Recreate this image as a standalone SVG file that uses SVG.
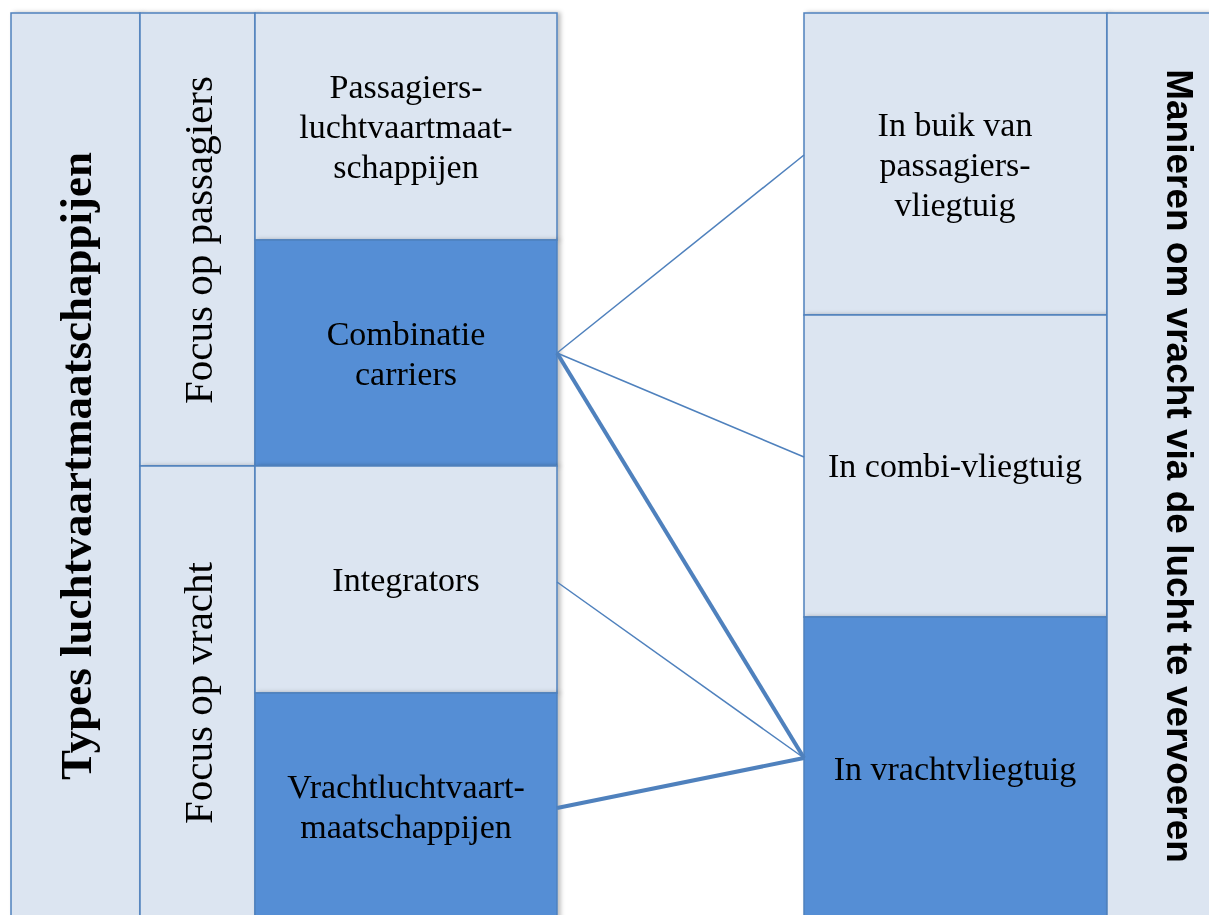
<svg xmlns="http://www.w3.org/2000/svg" width="1209" height="915" viewBox="0 0 1209 915">
<defs>
<style>
.l{fill:#DCE5F1;stroke:#4F81BD;stroke-width:1.5}
.d{fill:#558ED5;stroke:#4F81BD;stroke-width:1.5}
.t{font-family:"Liberation Serif","DejaVu Serif",serif;font-size:34px;fill:#000;text-anchor:middle}
.tv{font-family:"Liberation Serif","DejaVu Serif",serif;font-size:41px;fill:#000;text-anchor:middle}
.tb{font-family:"Liberation Serif","DejaVu Serif",serif;font-size:45px;font-weight:bold;fill:#000;text-anchor:middle}
.sb{font-family:"Liberation Sans","DejaVu Sans",sans-serif;font-size:37px;font-weight:bold;fill:#000;text-anchor:middle}
.c{stroke:#4F81BD;fill:none;stroke-width:1.5}
.ck{stroke:#4F81BD;fill:none;stroke-width:4}
</style>
<filter id="sh" x="-5%" y="-5%" width="115%" height="115%">
<feDropShadow dx="3" dy="0" stdDeviation="2" flood-color="#000" flood-opacity="0.25"/>
</filter>
</defs>
<rect width="1209" height="915" fill="#fff"/>
<g id="title-left" filter="url(#sh)">
<rect class="l" x="11" y="13" width="129" height="910"/>
<text class="tb" transform="translate(91,466) rotate(-90)">Types luchtvaartmaatschappijen</text>
</g>
<g id="focus-passagiers" filter="url(#sh)">
<rect class="l" x="140" y="13" width="115" height="453"/>
<text class="tv" transform="translate(212,240) rotate(-90)">Focus op passagiers</text>
</g>
<g id="focus-vracht" filter="url(#sh)">
<rect class="l" x="140" y="466" width="115" height="457"/>
<text class="tv" transform="translate(212,693) rotate(-90)">Focus op vracht</text>
</g>
<g id="passagiers" filter="url(#sh)">
<rect class="l" x="255" y="13" width="302" height="227"/>
<text class="t" x="406" y="98">Passagiers-</text>
<text class="t" x="406" y="138">luchtvaartmaat-</text>
<text class="t" x="406" y="178">schappijen</text>
</g>
<g id="combinatie" filter="url(#sh)">
<rect class="d" x="255" y="240" width="302" height="226"/>
<text class="t" x="406" y="345">Combinatie</text>
<text class="t" x="406" y="385">carriers</text>
</g>
<g id="integrators" filter="url(#sh)">
<rect class="l" x="255" y="466" width="302" height="227"/>
<text class="t" x="406" y="591">Integrators</text>
</g>
<g id="vracht" filter="url(#sh)">
<rect class="d" x="255" y="693" width="302" height="230"/>
<text class="t" x="406" y="798">Vrachtluchtvaart-</text>
<text class="t" x="406" y="838">maatschappijen</text>
</g>
<g id="buik" filter="url(#sh)">
<rect class="l" x="804" y="13" width="303" height="302"/>
<text class="t" x="955" y="136">In buik van</text>
<text class="t" x="955" y="176">passagiers-</text>
<text class="t" x="955" y="216">vliegtuig</text>
</g>
<g id="combi" filter="url(#sh)">
<rect class="l" x="804" y="315" width="303" height="302"/>
<text class="t" x="955" y="477">In combi-vliegtuig</text>
</g>
<g id="vrachtvliegtuig" filter="url(#sh)">
<rect class="d" x="804" y="617" width="303" height="306"/>
<text class="t" x="955" y="780">In vrachtvliegtuig</text>
</g>
<g id="title-right" filter="url(#sh)">
<rect class="l" x="1107" y="13" width="120" height="910"/>
<text class="sb" transform="translate(1167,466) rotate(90)">Manieren om vracht via de lucht te vervoeren</text>
</g>
<g id="connectors">
<line class="c" x1="557" y1="353" x2="804" y2="155"/>
<line class="c" x1="557" y1="353" x2="804" y2="457"/>
<line class="ck" x1="557" y1="353" x2="804" y2="758"/>
<line class="c" x1="557" y1="582" x2="804" y2="758"/>
<line class="ck" x1="557" y1="808" x2="804" y2="758"/>
</g>
</svg>
